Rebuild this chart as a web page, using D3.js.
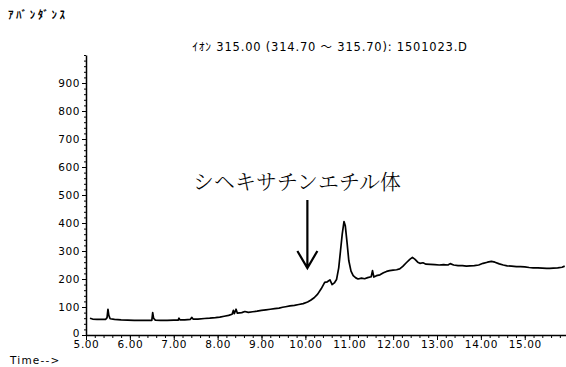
<!DOCTYPE html>
<html>
<head>
<meta charset="utf-8">
<script src="https://cdn.jsdelivr.net/npm/d3@7"></script>
<style>
  body { margin: 0; background: #fff; }
  text { font-family: "DejaVu Sans", sans-serif; fill: #000; }
</style>
</head>
<body>
<div id="root"></div>
<script>
const width = 566
const height = 367

// retention time (min) and abundance
const times = [5.09, 5.15, 5.25, 5.35, 5.45, 5.48, 5.50, 5.52, 5.55, 5.65, 5.80, 5.95,
  6.10, 6.25, 6.40, 6.50, 6.52, 6.54, 6.58, 6.70, 6.85, 7.00, 7.10, 7.12, 7.14, 7.25,
  7.38, 7.41, 7.44, 7.55, 7.70, 7.82, 7.95, 8.05, 8.15, 8.25, 8.33, 8.36, 8.38, 8.42,
  8.45, 8.55, 8.62, 8.70, 8.80, 8.90, 9.00, 9.10, 9.20, 9.30, 9.40, 9.48, 9.55, 9.65,
  9.75, 9.85, 9.95, 10.05, 10.12, 10.20, 10.28, 10.36, 10.44, 10.50, 10.56, 10.61,
  10.66, 10.71, 10.76, 10.80, 10.84, 10.88, 10.91, 10.95, 10.99, 11.04, 11.09, 11.15,
  11.20, 11.28, 11.35, 11.42, 11.50, 11.53, 11.56, 11.62, 11.70, 11.78, 11.85, 11.92,
  12.00, 12.08, 12.15, 12.22, 12.30, 12.38, 12.44, 12.50, 12.56, 12.61, 12.68, 12.75,
  12.85, 12.95, 13.05, 13.15, 13.25, 13.30, 13.38, 13.48, 13.58, 13.67, 13.75, 13.85,
  13.95, 14.05, 14.15, 14.24, 14.32, 14.42, 14.51, 14.60, 14.70, 14.81, 14.90, 15.00,
  15.10, 15.19, 15.30, 15.40, 15.50, 15.57, 15.65, 15.75, 15.85, 15.91]
const abundance = [60, 57, 56, 56, 56, 62, 92, 70, 58, 56, 54, 53,
  52, 52, 52, 52, 80, 60, 53, 52, 52, 53, 53, 60, 54, 54,
  56, 63, 57, 57, 59, 60, 62, 64, 67, 70, 74, 88, 76, 92,
  78, 80, 84, 81, 83, 85, 88, 90, 92, 94, 96, 99, 101, 104,
  106, 109, 112, 118, 124, 133, 146, 165, 188, 190, 197, 180,
  186, 198, 240, 300, 360, 405, 390, 330, 265, 228, 212, 204,
  200, 203, 201, 205, 208, 230, 207, 212, 215, 222, 227, 230,
  232, 233, 236, 245, 258, 270, 277, 270, 260, 256, 258, 253,
  252, 251, 250, 251, 250, 255, 250, 248, 248, 246, 247, 248,
  250, 256, 260, 263, 260, 254, 250, 247, 246, 244, 244, 243,
  241, 240, 240, 239, 238, 238, 239, 240, 242, 246]

const xTicks = d3.range(5, 15.01, 1)
const yTicks = d3.range(0, 901, 100)
const title = 'ｲｵﾝ 315.00 (314.70 ～ 315.70): 1501023.D'
const yLabel = 'ｱﾊﾞﾝﾀﾞﾝｽ'
const xLabel = 'Time-->'
const note = 'シヘキサチンエチル体'
const noteTime = 10.0

const data = times.map((t, i) => ({ t: t, v: abundance[i] }))

const svg = d3.select('#root').append('svg')
  .attr('width', width)
  .attr('height', height)

const x = d3.scaleLinear().domain([5, 15.94]).range([86, 566])
const y = d3.scaleLinear().domain([0, 1000]).range([335, 55])

// y axis: minor ticks then labelled majors
svg.append('g')
  .attr('transform', 'translate(86,0)')
  .call(d3.axisLeft(y).tickValues(d3.range(0, 1001, 20)).tickSize(2).tickSizeOuter(0).tickFormat(''))
  .call(g => g.select('.domain').attr('stroke-width', 1.5))

svg.append('g')
  .attr('transform', 'translate(86,0)')
  .call(d3.axisLeft(y).tickValues(yTicks).tickSize(4).tickPadding(2))
  .call(g => g.select('.domain').remove())
  .call(g => g.selectAll('text')
    .style('font-family', '"DejaVu Sans", sans-serif')
    .style('font-size', '10.5px')
    .style('letter-spacing', '0.6px'))
  .call(g => g.selectAll('.tick').filter(d => d === 0).select('text').attr('dy', '0.1em'))

// x axis
svg.append('g')
  .attr('transform', 'translate(0,335)')
  .call(d3.axisBottom(x).tickValues(d3.range(5, 15.95, 0.2)).tickSize(3).tickSizeOuter(0).tickFormat(''))
  .call(g => g.select('.domain').attr('stroke-width', 1.5))

svg.append('g')
  .attr('transform', 'translate(0,335)')
  .call(d3.axisBottom(x).tickValues(xTicks).tickSize(5).tickPadding(1).tickFormat(d3.format('.2f')))
  .call(g => g.select('.domain').remove())
  .call(g => g.selectAll('text')
    .style('font-family', '"DejaVu Sans", sans-serif')
    .style('font-size', '10.5px')
    .style('letter-spacing', '0.6px'))

const line = d3.line()
  .x(d => x(d.t))
  .y(d => y(d.v))

svg.append('path')
  .datum(data)
  .attr('fill', 'none')
  .attr('stroke', '#000')
  .attr('stroke-width', 1.7)
  .attr('stroke-linejoin', 'round')
  .attr('d', line)

// texts
svg.append('text')
  .attr('x', 8).attr('y', 19)
  .style('font-family', '"Noto Sans CJK JP", sans-serif')
  .style('font-size', '11px')
  .style('font-weight', 'bold')
  .style('letter-spacing', '2.6px')
  .text(yLabel)

svg.append('text')
  .attr('x', 330).attr('y', 51)
  .attr('text-anchor', 'middle')
  .style('font-family', '"DejaVu Sans", "Noto Sans CJK JP", sans-serif')
  .style('font-size', '11.5px')
  .style('letter-spacing', '0.8px')
  .text(title)

svg.append('text')
  .attr('x', 10).attr('y', 364)
  .style('font-family', '"DejaVu Sans", sans-serif')
  .style('font-size', '10.5px')
  .style('letter-spacing', '1.2px')
  .text(xLabel)

svg.append('text')
  .attr('x', 193).attr('y', 189)
  .style('font-family', '"Noto Serif CJK JP", "Noto Sans CJK JP", serif')
  .style('font-size', '21px')
  .style('font-weight', '300')
  .text(note)

// arrow pointing at the peak shoulder
const ax = x(noteTime) + 2
svg.append('path')
  .attr('d', `M${ax},200V268M${ax - 10},251L${ax},268L${ax + 10},251`)
  .attr('fill', 'none')
  .attr('stroke', '#000')
  .attr('stroke-width', 2.2)
</script>
</body>
</html>
